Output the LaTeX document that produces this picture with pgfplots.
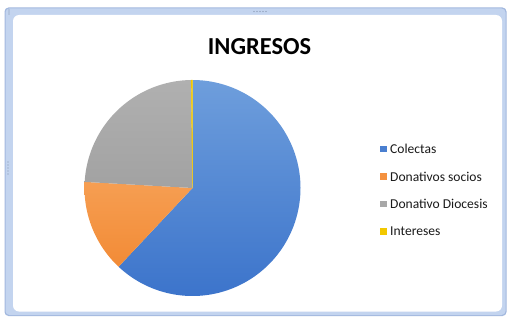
\documentclass[border=0pt]{standalone}
\usepackage{pgfplots}
\usepackage{pgfplotstable}
\pgfplotsset{compat=1.18}
\usepackage{fontspec}
\setmainfont{Carlito}
\definecolor{cBlueT}{HTML}{6E9EDC}
\definecolor{cBlueB}{HTML}{3C74CB}
\definecolor{cBlue}{HTML}{4A7FD0}
\definecolor{cOrangeT}{HTML}{F69E52}
\definecolor{cOrangeB}{HTML}{F28B36}
\definecolor{cOrange}{HTML}{F4913F}
\definecolor{cGrayT}{HTML}{B0B0B0}
\definecolor{cGrayB}{HTML}{A2A2A2}
\definecolor{cGray}{HTML}{A8A8A8}
\definecolor{cYellow}{HTML}{F2C800}
\definecolor{frameC}{HTML}{C3D4EF}
\definecolor{frameD}{HTML}{A2B8DE}
\definecolor{handleC}{HTML}{7F8FAA}
\definecolor{txt}{HTML}{1A1A1A}
\pgfplotstableread{
idx value
0 62.0
1 13.9
2 23.9
3 0.2
}\ingresos
\pgfplotstablegetelem{0}{value}\of\ingresos\let\vA\pgfplotsretval
\pgfplotstablegetelem{1}{value}\of\ingresos\let\vB\pgfplotsretval
\pgfplotstablegetelem{2}{value}\of\ingresos\let\vC\pgfplotsretval
\pgfplotstablegetelem{3}{value}\of\ingresos\let\vD\pgfplotsretval
\pgfmathsetmacro\aA{3.6*\vA}
\pgfmathsetmacro\aB{\aA+3.6*\vB}
\pgfmathsetmacro\aC{\aB+3.6*\vC}
\pgfmathsetmacro\aD{\aC+3.6*\vD}
\begin{document}
\begin{tikzpicture}
\begin{axis}[x=1bp,y=1bp,xmin=0,xmax=508,ymin=0,ymax=317,
  scale only axis,hide axis,clip=false]
% background and chart frame
\fill[white] (0,0) rectangle (508,317);
\fill[frameD,rounded corners=4bp] (4.5,1) rectangle (506.5,309.5);
\fill[frameC,rounded corners=4bp] (5.5,2) rectangle (505.5,308.5);
\fill[white,rounded corners=6bp] (13,5.5) rectangle (502,302);
% selection handles
\fill[handleC] (9,303) circle (0.6bp) (9,305) circle (0.6bp) (9,307) circle (0.6bp);
\fill[handleC] (254,305.5) circle (0.6bp) (257,305.5) circle (0.6bp) (260,305.5) circle (0.6bp) (263,305.5) circle (0.6bp) (266,305.5) circle (0.6bp);
\fill[handleC] (8,143) circle (0.6bp) (8,146) circle (0.6bp) (8,149) circle (0.6bp) (8,152) circle (0.6bp) (8,155) circle (0.6bp);
% pie slices (clockwise from 12 o'clock)
\addplot[draw=none,top color=cBlueT,bottom color=cBlueB,domain=0:\aA,samples=160,variable=\t]
  ({192.5+108*sin(\t)},{129+108*cos(\t)}) -- (192.5,129) -- cycle;
\addplot[draw=none,top color=cOrangeT,bottom color=cOrangeB,domain=\aA:\aB,samples=60,variable=\t]
  ({192.5+108*sin(\t)},{129+108*cos(\t)}) -- (192.5,129) -- cycle;
\addplot[draw=none,top color=cGrayT,bottom color=cGrayB,domain=\aB:\aC,samples=90,variable=\t]
  ({192.5+108*sin(\t)},{129+108*cos(\t)}) -- (192.5,129) -- cycle;
\addplot[draw=cYellow,fill=cYellow,line width=0.4bp,domain=\aC:\aD,samples=5,variable=\t]
  ({192.5+108*sin(\t)},{129+108*cos(\t)}) -- (192.5,129) -- cycle;
% title
\node[font=\fontsize{24.5}{29}\selectfont\bfseries,text=black] at (259.5,270) {INGRESOS};
% legend
\fill[cBlue] (380,165) rectangle +(6.5,6.5);
\node[anchor=west,inner sep=0,font=\fontsize{13.6}{15}\selectfont,text=txt] at (390,168) {Colectas};
\fill[cOrange] (380,137.5) rectangle +(6.5,6.5);
\node[anchor=west,inner sep=0,font=\fontsize{13.6}{15}\selectfont,text=txt] at (390,140.5) {Donativos socios};
\fill[cGray] (380,110) rectangle +(6.5,6.5);
\node[anchor=west,inner sep=0,font=\fontsize{13.6}{15}\selectfont,text=txt] at (390,113) {Donativo Diocesis};
\fill[cYellow] (380,82.5) rectangle +(6.5,6.5);
\node[anchor=west,inner sep=0,font=\fontsize{13.6}{15}\selectfont,text=txt] at (390,85.5) {Intereses};
\end{axis}
\end{tikzpicture}
\end{document}
